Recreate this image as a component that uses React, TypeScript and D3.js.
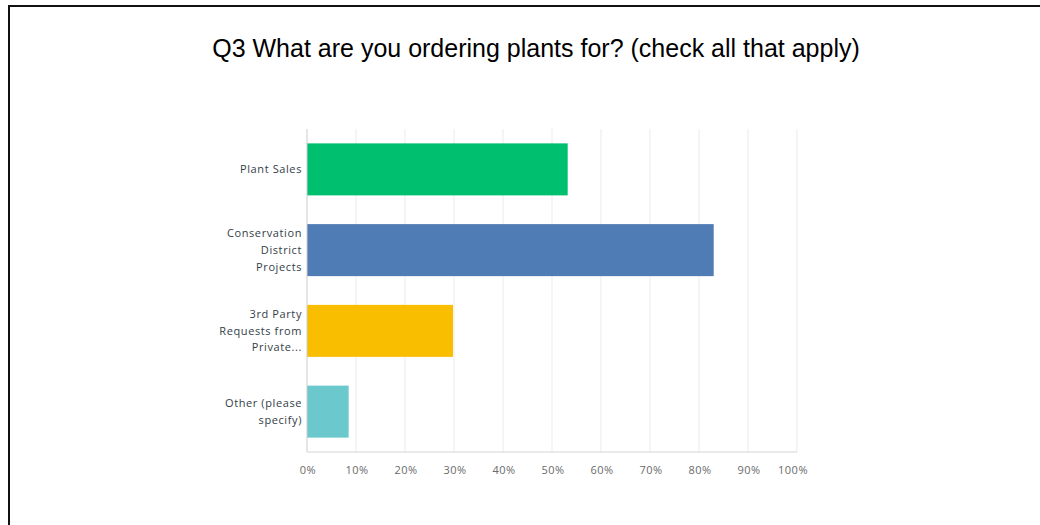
import * as d3 from "d3";
import React, { useRef, useEffect } from "react";

const categories = [
  ["Plant Sales"],
  ["Conservation", "District", "Projects"],
  ["3rd Party", "Requests from", "Private..."],
  ["Other (please", "specify)"],
];
const values = [53.2, 83.0, 29.8, 8.5];
const colors = ["#00bf6f", "#507cb6", "#f9be00", "#6bc8cd"];
const ticks = [0, 10, 20, 30, 40, 50, 60, 70, 80, 90, 100];
const title = "Q3 What are you ordering plants for? (check all that apply)";

const App = () => {
  const ref = useRef<SVGSVGElement>(null);
  const width = 1040;
  const height = 525;
  const left = 307;
  const right = 797;
  const top = 129;
  const bottom = 452;

  useEffect(() => {
    const svg = d3.select(ref.current);
    svg.selectAll("*").remove();

    svg
      .append("rect")
      .attr("x", 9)
      .attr("y", 6)
      .attr("width", width + 20)
      .attr("height", height + 20)
      .attr("fill", "#fff")
      .attr("stroke", "#111")
      .attr("stroke-width", 2);

    svg
      .append("text")
      .attr("x", 536)
      .attr("y", 57)
      .attr("text-anchor", "middle")
      .style("font-family", "'Liberation Sans', Arial, sans-serif")
      .style("font-size", "25px")
      .attr("fill", "#000")
      .text(title);

    const x = d3.scaleLinear().domain([0, 100]).range([left, right]);
    const y = d3
      .scaleBand()
      .domain(categories.map((d, i) => String(i)))
      .range([top, bottom])
      .paddingInner(0.356)
      .paddingOuter(0.178);

    const chart = svg.append("g");

    chart
      .selectAll(".grid")
      .data(ticks.slice(1))
      .enter()
      .append("line")
      .attr("x1", (d) => x(d))
      .attr("x2", (d) => x(d))
      .attr("y1", top)
      .attr("y2", bottom)
      .attr("stroke", "#ebebeb")
      .attr("stroke-width", 1);

    chart
      .selectAll(".bar")
      .data(values)
      .enter()
      .append("rect")
      .attr("x", x(0))
      .attr("y", (d, i) => y(String(i)) as number)
      .attr("width", (d) => x(d) - x(0))
      .attr("height", y.bandwidth())
      .attr("fill", (d, i) => colors[i]);

    chart
      .append("line")
      .attr("x1", x(0))
      .attr("x2", x(0))
      .attr("y1", top)
      .attr("y2", bottom)
      .attr("stroke", "#cccccc");

    chart
      .append("line")
      .attr("x1", x(0))
      .attr("x2", x(100))
      .attr("y1", bottom)
      .attr("y2", bottom)
      .attr("stroke", "#d5d5d5");

    chart
      .selectAll(".tick")
      .data(ticks)
      .enter()
      .append("text")
      .attr("x", (d) => (d === 100 ? x(d) - 4 : x(d) + 1))
      .attr("y", bottom + 22)
      .attr("text-anchor", "middle")
      .style("font-family", "'Open Sans', sans-serif")
      .style("font-size", "11px")
      .style("letter-spacing", "0.5px")
      .attr("fill", "#6a6a6a")
      .text((d) => `${d}%`);

    const lineH = 16.7;
    categories.forEach((lines, i) => {
      const cy = (y(String(i)) as number) + y.bandwidth() / 2;
      const start = cy - ((lines.length - 1) * lineH) / 2;
      const t = chart
        .append("text")
        .attr("text-anchor", "end")
        .style("font-family", "'Open Sans', sans-serif")
        .style("font-size", "11px")
        .style("letter-spacing", "0.6px")
        .attr("fill", "#333e48");
      lines.forEach((s, j) => {
        t.append("tspan")
          .attr("x", 302)
          .attr("y", start + j * lineH)
          .attr("dy", "0.35em")
          .text(s);
      });
    });
  }, []);

  return (
    <svg
      ref={ref}
      width={width}
      height={height}
      style={{ position: "absolute", left: 0, top: 0, background: "#fff" }}
    ></svg>
  );
};

export default App;
